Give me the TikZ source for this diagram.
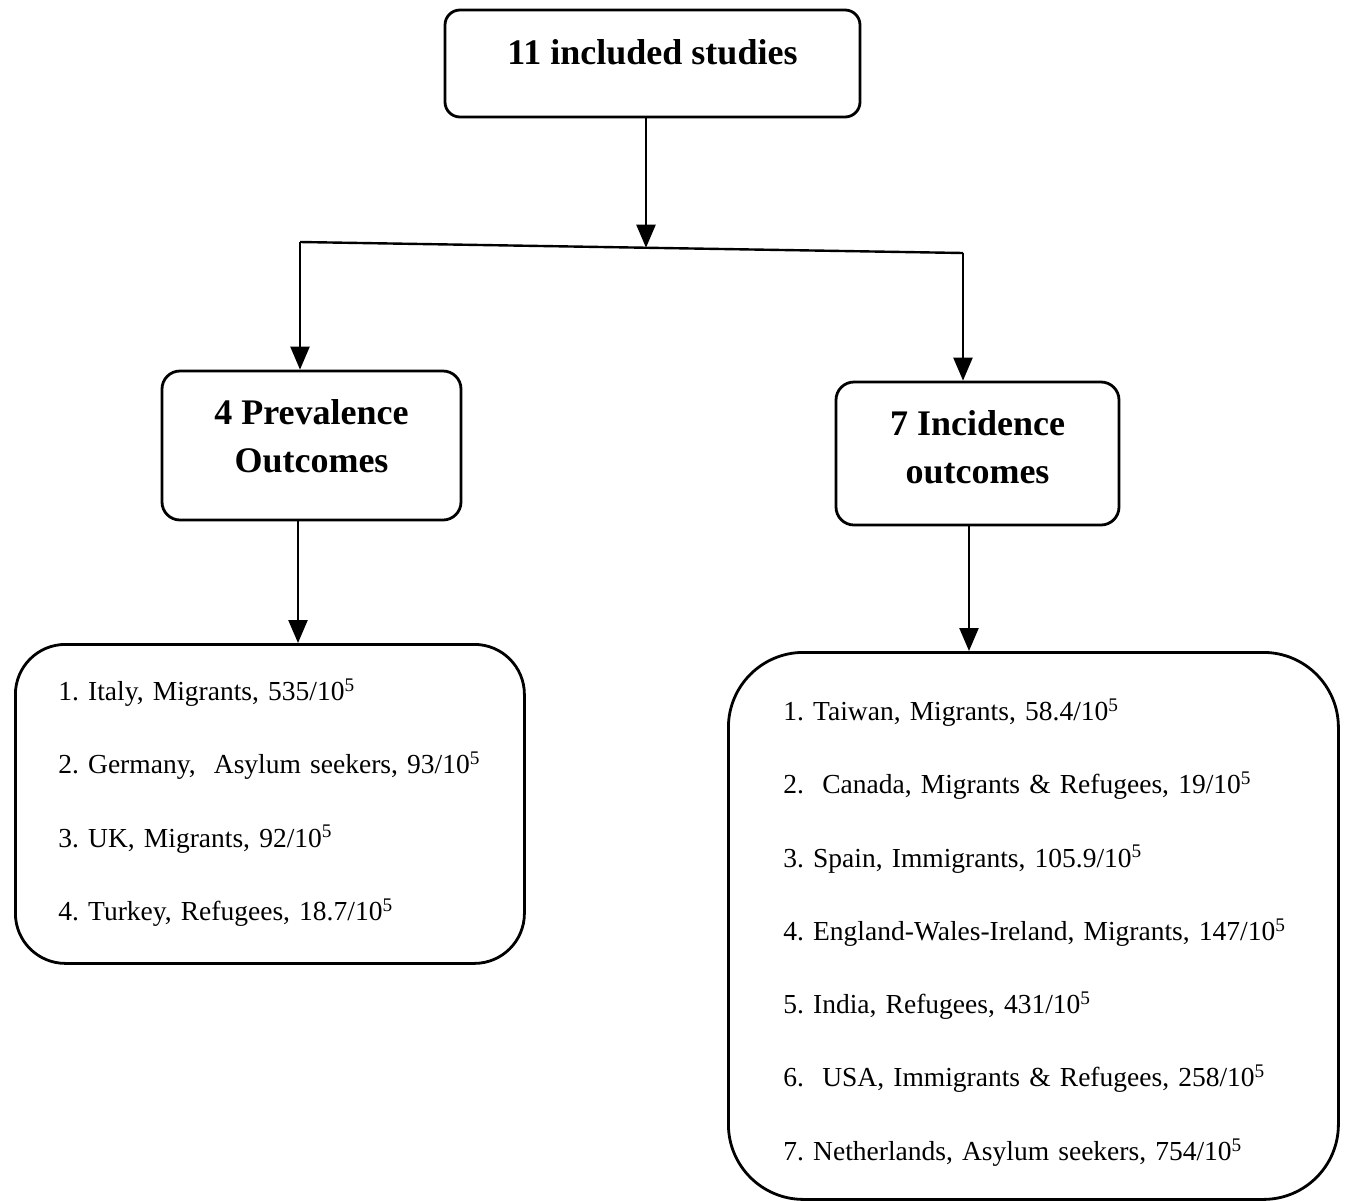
\documentclass[tikz,border=0pt]{standalone}
\usepackage{fontspec}
\setmainfont{Liberation Serif}
\usetikzlibrary{arrows.meta}
\frenchspacing
\newcommand{\twolines}[3]{\raisebox{#1}[\height][\depth]{\begin{tabular}{@{}c@{}}#2\\#3\end{tabular}}}
\newcommand{\itm}[1]{\mbox{#1}}
\begin{document}
\begin{tikzpicture}[x=1pt,y=-1pt,
  titlebox/.style={draw,line width=2.8pt,rounded corners=18pt,inner sep=0pt,
    font=\fontsize{36}{48}\selectfont\bfseries},
  listbox/.style={draw,line width=2.8pt,anchor=north west,align=left,inner ysep=0pt,
    font=\fontsize{27.5}{73.3}\selectfont},
  conn/.style={line width=2.4pt},
  arr/.style={conn,-{Triangle[length=23pt,width=19pt]}}]
\useasboundingbox (0,0) rectangle (1357,1200);

\node[titlebox,rounded corners=15pt,minimum width=415pt,minimum height=107pt,
  text height=26pt,text depth=25pt] (top) at (652.5,63.5) {11 included studies};
\node[titlebox,minimum width=299pt,minimum height=149pt] (prev) at (311.5,445.5)
  {\twolines{7pt}{4 Prevalence}{Outcomes}};
\node[titlebox,minimum width=283pt,minimum height=143pt] (inc) at (977.5,453.5)
  {\twolines{4pt}{7 Incidence}{outcomes}};

\node[listbox,rounded corners=50pt,inner xsep=43pt,text width=423pt,
  text height=56pt,text depth=263pt] (plist) at (14,643)
  {\itm{1. Italy, Migrants, 535/10\textsuperscript{5}}\\
   \itm{2. Germany,\ \ Asylum seekers, 93/10\textsuperscript{5}}\\
   \itm{3. UK, Migrants, 92/10\textsuperscript{5}}\\
   \itm{4. Turkey, Refugees, 18.7/10\textsuperscript{5}}};

\node[listbox,rounded corners=75pt,inner xsep=55pt,text width=500pt,
  text height=68pt,text depth=479pt] (ilist) at (727,651)
  {\itm{1. Taiwan, Migrants, 58.4/10\textsuperscript{5}}\\
   \itm{2.\ \ Canada, Migrants \& Refugees, 19/10\textsuperscript{5}}\\
   \itm{3. Spain, Immigrants, 105.9/10\textsuperscript{5}}\\
   \itm{4. England-Wales-Ireland, Migrants, 147/10\textsuperscript{5}}\\
   \itm{5. India, Refugees, 431/10\textsuperscript{5}}\\
   \itm{6.\ \ USA, Immigrants \& Refugees, 258/10\textsuperscript{5}}\\
   \itm{7. Netherlands, Asylum seekers, 754/10\textsuperscript{5}}};

\coordinate (jL) at (300,242);
\coordinate (jR) at (963,253);
\coordinate (jM) at (646,247.7);

\draw[arr] (top.south -| jM) -- (jM);
\draw[conn] (jL) -- (jR);
\draw[arr] (jL) -- (jL |- prev.north);
\draw[arr] (jR) -- (jR |- inc.north);
\draw[arr] (prev.south -| 298,0) -- (298,643);
\draw[arr] (inc.south -| 969,0) -- (969,651);
\end{tikzpicture}
\end{document}
